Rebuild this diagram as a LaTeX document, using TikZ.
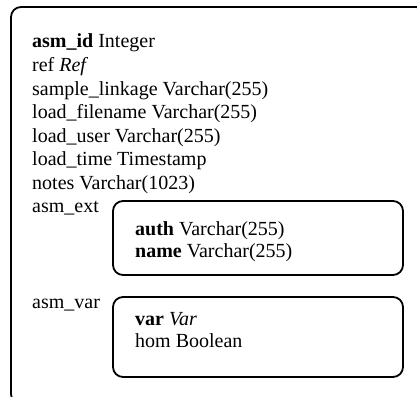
\documentclass[tikz,border=0pt]{standalone}
\usepackage{fontspec}
\setmainfont{Liberation Serif}
\begin{document}
\begin{tikzpicture}[x=1pt,y=-1pt,
  fld/.style={anchor=base west,inner sep=0pt,font=\fontsize{20}{23}\selectfont},
  boxline/.style={draw=black,line width=1.8pt,rounded corners=10pt}]
\useasboundingbox (0,0) rectangle (417,396);
\begin{scope}
\clip (0,0) rectangle (417,396);
\draw[boxline] (11,7) rectangle (426,404);
\end{scope}
\node[fld] (f1) at (32,48) {\textbf{asm\_id} Integer};
\node[fld] (f2) at (32,71.5) {ref \textit{Ref}};
\node[fld] (f3) at (32,95) {sample\_linkage Varchar(255)};
\node[fld] (f4) at (32,118.5) {load\_filename Varchar(255)};
\node[fld] (f5) at (32,142) {load\_user Varchar(255)};
\node[fld] (f6) at (32,165.5) {load\_time Timestamp};
\node[fld] (f7) at (32,189) {notes Varchar(1023)};
\node[fld] (ext) at (32,212.5) {asm\_ext};
\draw[boxline] (113,201) rectangle (403,275);
\node[fld] (auth) at (135,235) {\textbf{auth} Varchar(255)};
\node[fld] (name) at (135,257) {\textbf{name} Varchar(255)};
\node[fld] (var) at (32,308) {asm\_var};
\draw[boxline] (113,297) rectangle (403,377);
\node[fld] (v1) at (135,325) {\textbf{var} \textit{Var}};
\node[fld] (v2) at (135,347) {hom Boolean};
\end{tikzpicture}
\end{document}
